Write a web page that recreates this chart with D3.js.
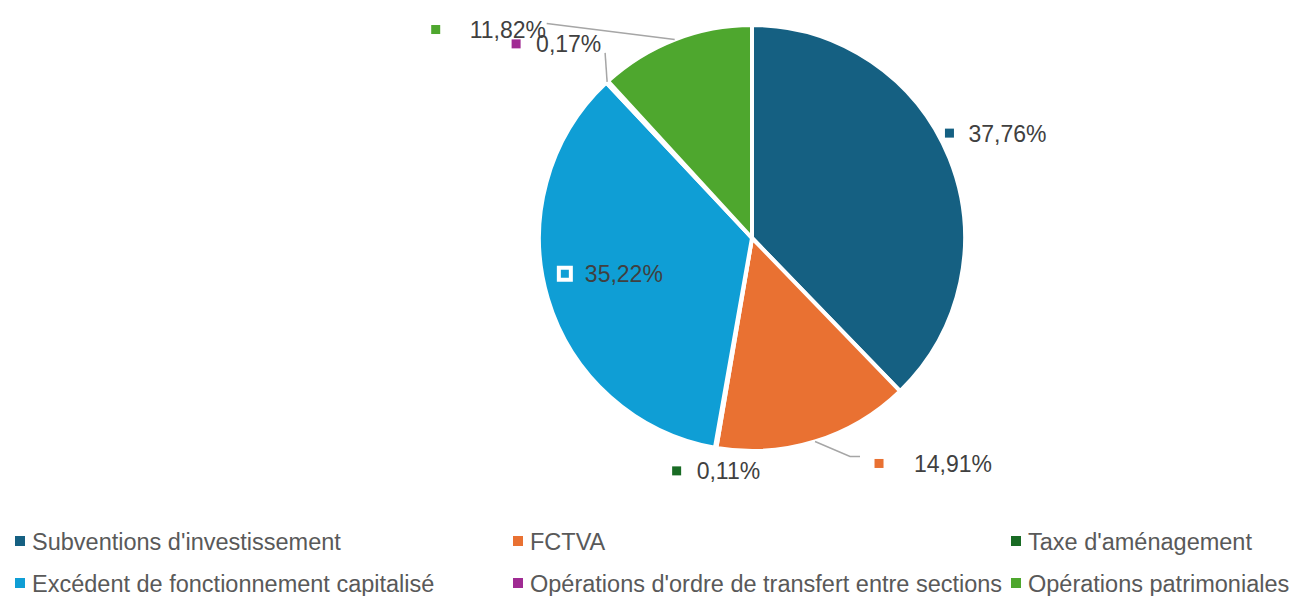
<!DOCTYPE html>
<html><head><meta charset="utf-8">
<script src="https://cdn.jsdelivr.net/npm/d3@7"></script>
<style>html,body{margin:0;padding:0;background:#fff;}svg{display:block;}</style>
</head><body>
<svg id="chart" width="1300" height="596"></svg>
<script>
// ---- data ----
const categories = ["Subventions d'investissement", "FCTVA", "Taxe d'aménagement",
  "Excédent de fonctionnement capitalisé", "Opérations d'ordre de transfert entre sections", "Opérations patrimoniales"];
const values = [37.76, 14.91, 0.11, 35.22, 0.17, 11.82];
const valueLabels = ["37,76%", "14,91%", "0,11%", "35,22%", "0,17%", "11,82%"];
const colors = ["#156082", "#E97132", "#196B24", "#0F9ED5", "#A02B93", "#4EA72E"];

// ---- layout ----
const W = 1300, H = 596;
const cx = 752, cy = 238, R = 213;
// label marker offset from slice outer midpoint, text gap, leader line (offsets relative to outer mid) or null
const labelLayout = [
  {dx: 0, dy: -25, gap: 19, leader: null, boxed: false},
  {dx: 64, dy: 22, gap: 35, leader: [[35, 15], [45, 15]], boxed: false},
  {dx: -39, dy: 23, gap: 20, leader: null, boxed: false},
  {dx: 17, dy: -25, gap: 20, leader: null, boxed: true},
  {dx: -91, dy: -38, gap: 20, leader: [[-2, -29]], boxed: false},
  {dx: -239, dy: -10, gap: 34, leader: [[-128, -16]], boxed: false}
];

const svg = d3.select("#chart");
const g = svg.append("g").attr("transform", `translate(${cx},${cy})`);

const pie = d3.pie().sort(null).value(d => d).startAngle(0).endAngle(2 * Math.PI);
const arcs = pie(values);
const arc = d3.arc().innerRadius(0).outerRadius(R);

g.selectAll("path.slice").data(arcs).join("path")
  .attr("class", "slice")
  .attr("d", arc)
  .attr("fill", (d, i) => colors[i])
  .attr("stroke", "#fff")
  .attr("stroke-width", 4)
  .attr("stroke-linejoin", "round");

function outerMid(d) {
  const a = (d.startAngle + d.endAngle) / 2;
  return [R * Math.sin(a), -R * Math.cos(a)];
}

// leader lines
arcs.forEach((d, i) => {
  const L = labelLayout[i];
  if (!L.leader) return;
  const p = outerMid(d);
  const pts = [p].concat(L.leader.map(o => [p[0] + o[0], p[1] + o[1]]));
  g.append("path")
    .attr("d", d3.line()(pts))
    .attr("fill", "none")
    .attr("stroke", "#A6A6A6")
    .attr("stroke-width", 1.5);
});

// data labels
arcs.forEach((d, i) => {
  const L = labelLayout[i];
  const p = outerMid(d);
  const mx = p[0] + L.dx, my = p[1] + L.dy;
  if (L.boxed) {
    g.append("rect").attr("x", mx - 6).attr("y", my - 6).attr("width", 12).attr("height", 12)
      .attr("fill", colors[i]).attr("stroke", "#fff").attr("stroke-width", 4);
  } else {
    g.append("rect").attr("x", mx - 4.5).attr("y", my - 4.5).attr("width", 9).attr("height", 9)
      .attr("fill", colors[i]);
  }
  g.append("text")
    .attr("x", mx + L.gap)
    .attr("y", my + 8.5)
    .attr("font-family", "'Liberation Sans', Arial, sans-serif")
    .attr("font-size", 23)
    .attr("fill", "#404040")
    .text(valueLabels[i]);
});

// legend
const legendCols = [15, 513, 1011];
const legendRows = [541, 583];
const legend = svg.append("g");
categories.forEach((c, i) => {
  const col = i % 3, row = Math.floor(i / 3);
  const x = legendCols[col], y = legendRows[row];
  legend.append("rect").attr("x", x).attr("y", y - 5).attr("width", 10).attr("height", 10).attr("fill", colors[i]);
  legend.append("text")
    .attr("x", x + 17)
    .attr("y", y + 8.5)
    .attr("font-family", "'Liberation Sans', Arial, sans-serif")
    .attr("font-size", 23.5)
    .attr("fill", "#595959")
    .text(c);
});
</script>
</body></html>
